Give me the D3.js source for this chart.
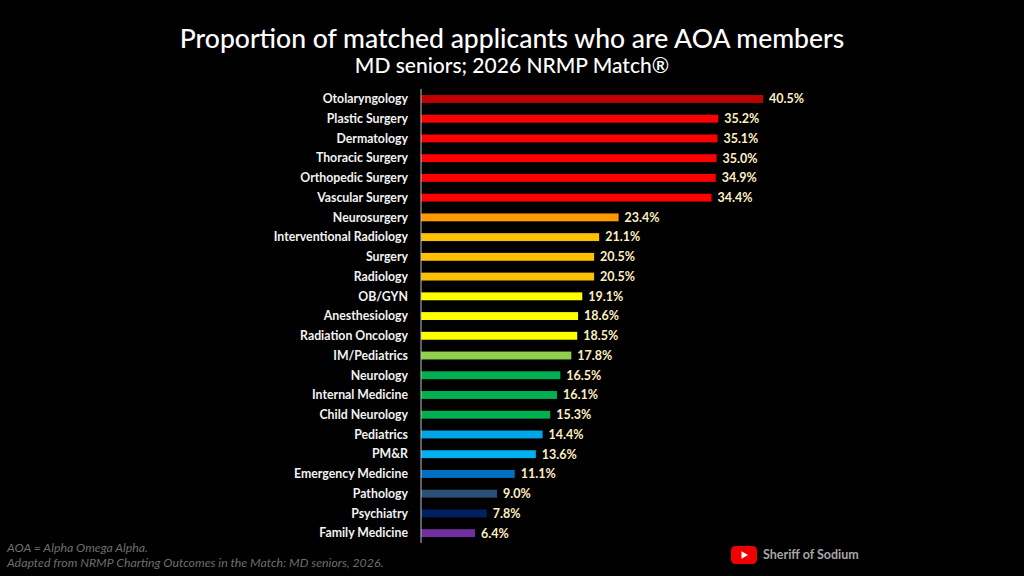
<!DOCTYPE html>
<html>
<head>
<meta charset="utf-8">
<script src="https://cdn.jsdelivr.net/npm/d3@7"></script>
<style>
  html, body { margin: 0; padding: 0; background: #000; }
  text { font-family: "Lato", "Noto Sans", sans-serif; }
</style>
</head>
<body>
<div id="chart"></div>
<script>
const specialties = ["Otolaryngology", "Plastic Surgery", "Dermatology", "Thoracic Surgery", "Orthopedic Surgery",
    "Vascular Surgery", "Neurosurgery", "Interventional Radiology", "Surgery", "Radiology", "OB/GYN", "Anesthesiology",
    "Radiation Oncology", "IM/Pediatrics", "Neurology", "Internal Medicine", "Child Neurology", "Pediatrics", "PM&R",
    "Emergency Medicine", "Pathology", "Psychiatry", "Family Medicine"];
const aoaPercent = [40.5, 35.2, 35.1, 35.0, 34.9, 34.4, 23.4, 21.1, 20.5, 20.5, 19.1, 18.6, 18.5, 17.8, 16.5, 16.1, 15.3,
    14.4, 13.6, 11.1, 9.0, 7.8, 6.4];
const barColors = ["#c00000", "#ff0000", "#ff0000", "#ff0000", "#ff0000", "#ff0000", "#ff9900", "#ffc000", "#ffc000",
    "#ffc000", "#ffff00", "#ffff00", "#ffff00", "#92d050", "#00b050", "#00b050", "#00b050", "#00a5e8", "#00b0f0",
    "#0070c0", "#2a5078", "#002060", "#7030a0"];

const width = 1024, height = 576;
const svg = d3.select("#chart").append("svg")
    .attr("width", width).attr("height", height)
    .style("display", "block");

svg.append("rect").attr("width", width).attr("height", height).attr("fill", "#000");

const x = d3.scaleLinear().domain([0, 40.5]).range([421, 763]);
const y = d3.scaleBand().domain(specialties).range([89.1, 543]).paddingInner(0.5).paddingOuter(0.25);

// titles
svg.append("text").attr("x", 512).attr("y", 48).attr("text-anchor", "middle")
    .attr("fill", "#fff").style("font-size", "26.5px").style("font-weight", 500)
    .text("Proportion of matched applicants who are AOA members");
svg.append("text").attr("x", 512).attr("y", 73).attr("text-anchor", "middle")
    .attr("fill", "#fff").style("font-size", "21px").style("font-weight", 500)
    .text("MD seniors; 2026 NRMP Match®");

const rows = specialties.map((name, i) => ({ name: name, value: aoaPercent[i], color: barColors[i] }));

svg.selectAll(".bar").data(rows).enter().append("rect")
    .attr("class", "bar")
    .attr("x", x(0))
    .attr("y", d => y(d.name))
    .attr("width", d => x(d.value) - x(0))
    .attr("height", y.bandwidth() * 0.8)
    .attr("transform", `translate(0,${y.bandwidth() * 0.1})`)
    .attr("fill", d => d.color);

svg.selectAll(".label").data(rows).enter().append("text")
    .attr("class", "label")
    .attr("x", 408)
    .attr("y", d => y(d.name) + y.bandwidth() / 2)
    .attr("dy", "0.35em")
    .attr("text-anchor", "end")
    .attr("fill", "#f2f2f2")
    .style("font-size", "12.3px").style("font-weight", 700)
    .text(d => d.name);

svg.selectAll(".value").data(rows).enter().append("text")
    .attr("class", "value")
    .attr("x", d => x(d.value) + 6)
    .attr("y", d => y(d.name) + y.bandwidth() / 2)
    .attr("dy", "0.35em")
    .attr("fill", "#ffefc0")
    .style("font-size", "12.5px").style("font-weight", 700)
    .text(d => d.value.toFixed(1) + "%");

// axis line
svg.append("line").attr("x1", x(0)).attr("x2", x(0)).attr("y1", 89).attr("y2", 543)
    .attr("stroke", "#bfbfbf").attr("stroke-width", 1);

// source notes
const notes = ["AOA = Alpha Omega Alpha.", "Adapted from NRMP Charting Outcomes in the Match: MD seniors, 2026."];
svg.selectAll(".note").data(notes).enter().append("text")
    .attr("class", "note")
    .attr("x", 7)
    .attr("y", (d, i) => 552 + i * 15)
    .attr("fill", "#6e6e6e")
    .style("font-size", "12.3px").style("font-style", "italic")
    .text(d => d);

// youtube badge
const badge = svg.append("g").attr("transform", "translate(731,546)");
badge.append("rect").attr("width", 26).attr("height", 18).attr("rx", 4.5).attr("fill", "#f00000");
badge.append("path").attr("d", "M10.5,5.2 L17,9 L10.5,12.8 Z").attr("fill", "#fff");
svg.append("text").attr("x", 763).attr("y", 559)
    .attr("fill", "#a6a6a6")
    .style("font-size", "12.5px").style("font-weight", 700)
    .text("Sheriff of Sodium");
</script>
</body>
</html>
